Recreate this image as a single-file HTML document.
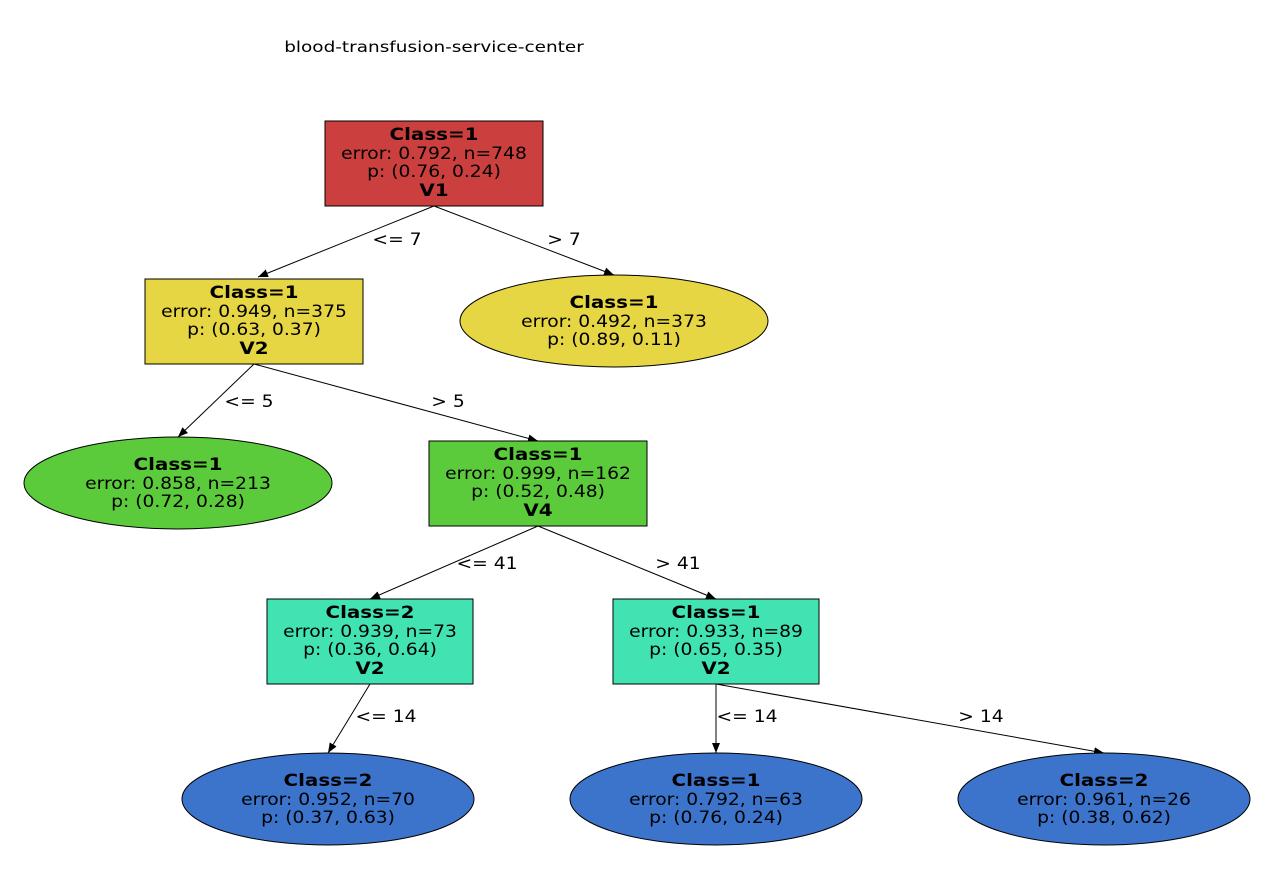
<!DOCTYPE html>
<html><head><meta charset="utf-8"><style>
html,body{margin:0;padding:0;background:#fff;}
svg text{font-family:"DejaVu Sans","Liberation Sans",sans-serif;font-size:17px;text-anchor:middle;fill:#000;transform-box:fill-box;transform-origin:center;transform:scaleX(1.1);}
svg text.b{font-weight:bold;transform:scaleX(1.17);}
svg text.t{font-size:15px;transform:scaleX(1.23);}
</style></head><body>
<svg width="1274" height="871" viewBox="0 0 1274 871" xmlns="http://www.w3.org/2000/svg">
<defs><marker id="a" viewBox="0 0 10 10" refX="10" refY="5" markerWidth="10" markerHeight="10" markerUnits="userSpaceOnUse" orient="auto"><path d="M0,1 L10,5 L0,9 z" fill="#000"/></marker></defs>
<text class="t" x="434" y="52">blood-transfusion-service-center</text>
<g stroke="#000" stroke-width="1" fill="none">
<line x1="434" y1="206" x2="258" y2="277" marker-end="url(#a)"/>
<line x1="434" y1="206" x2="614" y2="275" marker-end="url(#a)"/>
<line x1="254" y1="364" x2="178" y2="437" marker-end="url(#a)"/>
<line x1="254" y1="364" x2="538" y2="441" marker-end="url(#a)"/>
<line x1="538" y1="526" x2="370" y2="599" marker-end="url(#a)"/>
<line x1="538" y1="526" x2="716" y2="599" marker-end="url(#a)"/>
<line x1="370" y1="684" x2="328" y2="753" marker-end="url(#a)"/>
<line x1="716" y1="684" x2="716" y2="753" marker-end="url(#a)"/>
<line x1="716" y1="684" x2="1104" y2="753" marker-end="url(#a)"/>
</g>
<text x="397" y="245">&lt;= 7</text><text x="564" y="245">&gt; 7</text>
<text x="249" y="407">&lt;= 5</text><text x="448" y="407">&gt; 5</text>
<text x="487" y="569">&lt;= 41</text><text x="678" y="569">&gt; 41</text>
<text x="386" y="722">&lt;= 14</text><text x="747" y="722">&lt;= 14</text><text x="981" y="722">&gt; 14</text>
<g stroke="#000" stroke-width="1">
<rect x="325" y="121" width="218" height="85" fill="#cc3f3f"/>
<rect x="145" y="279" width="218" height="85" fill="#e6d643"/>
<ellipse cx="614" cy="321" rx="154" ry="46" fill="#e6d643"/>
<ellipse cx="178" cy="483" rx="154" ry="46" fill="#5bcb3c"/>
<rect x="429" y="441" width="218" height="85" fill="#5bcb3c"/>
<rect x="267" y="599" width="206" height="85" fill="#42e3b3"/>
<rect x="613" y="599" width="206" height="85" fill="#42e3b3"/>
<ellipse cx="328" cy="799" rx="146" ry="46" fill="#3c74cc"/>
<ellipse cx="716" cy="799" rx="146" ry="46" fill="#3c74cc"/>
<ellipse cx="1104" cy="799" rx="146" ry="46" fill="#3c74cc"/>
</g>
<text class="b" x="434" y="140">Class=1</text><text x="434" y="159">error: 0.792, n=748</text><text x="434" y="177">p: (0.76, 0.24)</text><text class="b" x="434" y="196">V1</text>
<text class="b" x="254" y="298">Class=1</text><text x="254" y="317">error: 0.949, n=375</text><text x="254" y="335">p: (0.63, 0.37)</text><text class="b" x="254" y="354">V2</text>
<text class="b" x="614" y="308">Class=1</text><text x="614" y="327">error: 0.492, n=373</text><text x="614" y="345">p: (0.89, 0.11)</text>
<text class="b" x="178" y="470">Class=1</text><text x="178" y="489">error: 0.858, n=213</text><text x="178" y="507">p: (0.72, 0.28)</text>
<text class="b" x="538" y="460">Class=1</text><text x="538" y="479">error: 0.999, n=162</text><text x="538" y="497">p: (0.52, 0.48)</text><text class="b" x="538" y="516">V4</text>
<text class="b" x="370" y="618">Class=2</text><text x="370" y="637">error: 0.939, n=73</text><text x="370" y="655">p: (0.36, 0.64)</text><text class="b" x="370" y="674">V2</text>
<text class="b" x="716" y="618">Class=1</text><text x="716" y="637">error: 0.933, n=89</text><text x="716" y="655">p: (0.65, 0.35)</text><text class="b" x="716" y="674">V2</text>
<text class="b" x="328" y="786">Class=2</text><text x="328" y="805">error: 0.952, n=70</text><text x="328" y="823">p: (0.37, 0.63)</text>
<text class="b" x="716" y="786">Class=1</text><text x="716" y="805">error: 0.792, n=63</text><text x="716" y="823">p: (0.76, 0.24)</text>
<text class="b" x="1104" y="786">Class=2</text><text x="1104" y="805">error: 0.961, n=26</text><text x="1104" y="823">p: (0.38, 0.62)</text>
</svg>
</body></html>
